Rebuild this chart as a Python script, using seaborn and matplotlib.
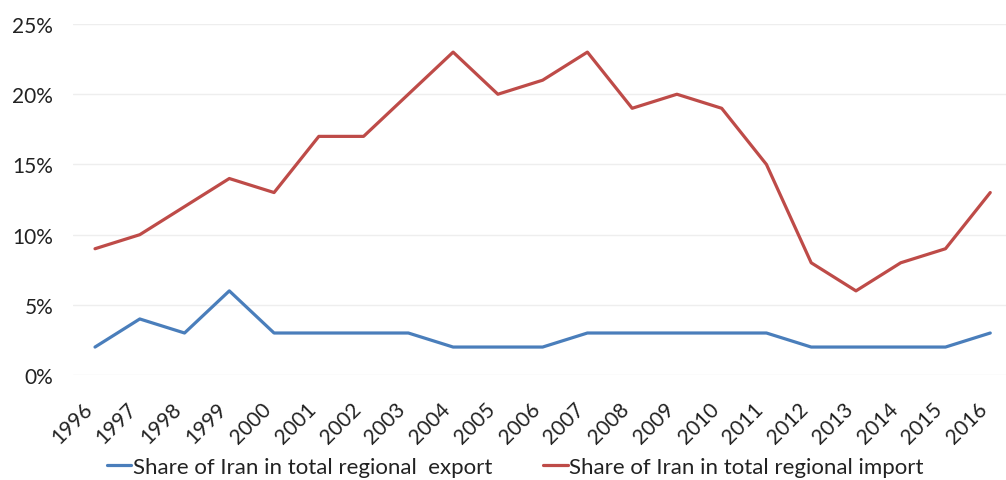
import matplotlib
matplotlib.use("Agg")
import matplotlib.pyplot as plt
import matplotlib.transforms as mtransforms
import seaborn as sns
import pandas as pd
import numpy as np
from matplotlib.lines import Line2D

years = [str(y) for y in range(1996, 2017)]
export_share = [2, 4, 3, 6, 3, 3, 3, 3, 2, 2, 2, 3, 3, 3, 3, 3, 2, 2, 2, 2, 3]
import_share = [9, 10, 12, 14, 13, 17, 17, 20, 23, 20, 21, 23, 19, 20, 19, 15, 8, 6, 8, 9, 13]
series_names = ["Share of Iran in total regional  export", "Share of Iran in total regional import"]
yticks = [0, 5, 10, 15, 20, 25]
colors = ["#4a7ebb", "#be4b48"]

sns.set_theme(style="white")
plt.rcParams['font.family'] = ['Lato', 'DejaVu Sans']

df = pd.DataFrame({
    "year": years * 2,
    "idx": list(range(len(years))) * 2,
    "value": export_share + import_share,
    "series": [series_names[0]] * len(years) + [series_names[1]] * len(years),
})

fig = plt.figure(figsize=(10.06, 4.81), dpi=100)
ax = fig.add_axes([0.0722, 0.218, 0.9344, 0.73])
sns.lineplot(data=df, x="idx", y="value", hue="series",
             palette=colors, linewidth=2.3, ax=ax, legend=False)

ax.set_xlim(-0.5, len(years) - 0.5)
ax.set_ylim(0, 25)
ax.set_yticks(yticks)
ax.set_yticklabels([f"{t}%" for t in yticks], fontsize=15, color="#222222")
ax.set_xticks(range(len(years)))
ax.set_xticklabels(years, rotation=45, ha="right", va="center",
                   rotation_mode="anchor", fontsize=15, color="#222222")
ax.tick_params(axis="x", pad=19, length=0)
ax.tick_params(axis="y", pad=14, length=0)
offset = mtransforms.ScaledTranslation(-6 / 100, -4 / 100, fig.dpi_scale_trans)
for lbl in ax.get_xticklabels():
    lbl.set_transform(lbl.get_transform() + offset)
ax.grid(axis="y", color="#eeeeee", linewidth=1)
for s in ax.spines.values():
    s.set_visible(False)
ax.set_xlabel("")
ax.set_ylabel("")

handles = [Line2D([0], [0], color=c, lw=2.3) for c in colors]
fig.legend(handles, series_names, loc="center", ncol=2, frameon=False,
           fontsize=16, bbox_to_anchor=(0.512, 0.027), handlelength=1.1,
           handletextpad=0.05, columnspacing=2.3, labelcolor="#222222")

fig.savefig("out.png", dpi=100)
